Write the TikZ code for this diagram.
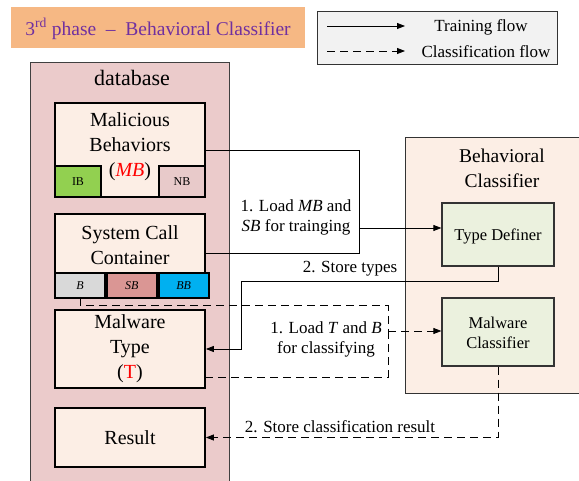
\documentclass[tikz,border=0pt]{standalone}
\usepackage{fontspec}
\setmainfont{Liberation Serif}
\usetikzlibrary{arrows.meta}
\definecolor{titlebg}{HTML}{F6B884}
\definecolor{titlefg}{HTML}{7030A0}
\definecolor{legbg}{HTML}{F2F2F2}
\definecolor{dbfill}{HTML}{EBCBCB}
\definecolor{inner}{HTML}{FCEEE5}
\definecolor{bcfill}{HTML}{FCEEE5}
\definecolor{greenbox}{HTML}{EBF1DE}
\definecolor{ibfill}{HTML}{92D050}
\definecolor{nbfill}{HTML}{E8CACA}
\definecolor{bfill}{HTML}{D9D9D9}
\definecolor{sbfill}{HTML}{DA9694}
\definecolor{bbfill}{HTML}{00B0F0}
\begin{document}
\begin{tikzpicture}[x=1pt,y=-1pt,
  box/.style={draw=black, line width=1.8pt, fill=inner, inner sep=0pt},
  cell/.style={draw=black, line width=1.8pt, inner sep=0pt, font=\fontsize{12}{14}\selectfont},
  gbox/.style={draw=black!80, line width=1.2pt, fill=greenbox, inner sep=0pt},
  big/.style={font=\fontsize{20}{25}\selectfont, align=center, inner sep=0pt},
  mid/.style={font=\fontsize{17}{20}\selectfont, align=center, inner sep=0pt},
  tip/.style={-{Triangle[length=8pt,width=6pt]}},
  solidflow/.style={draw=black, line width=0.8pt},
  dashflow/.style={draw=black, line width=0.8pt, dash pattern=on 8pt off 5pt}]
\useasboundingbox (0,0) rectangle (579,481);
% title
\node[fill=titlebg, minimum width=294pt, minimum height=41pt, anchor=north west, inner sep=0pt] (title) at (11,7) {};
\node[font=\fontsize{19.5}{22}\selectfont, text=titlefg, inner sep=0pt] (titletext) at (158,29) {3\textsuperscript{rd} phase \ – \ Behavioral Classifier};
% legend
\node[draw=black!80, line width=1pt, fill=legbg, minimum width=240pt, minimum height=53pt, anchor=north west, inner sep=0pt] (legend) at (317,11) {};
\coordinate (l1a) at (327,26); \coordinate (l1b) at (405,26);
\coordinate (l2a) at (327,51); \coordinate (l2b) at (405,51);
\draw[solidflow, tip] (l1a) -- (l1b);
\draw[dashflow, tip] (l2a) -- (l2b);
\node[mid] (ltrain) at (481,27) {Training flow};
\node[mid] (lclass) at (486,52) {Classification flow};
% database
\node[draw=black!75, line width=1pt, fill=dbfill, minimum width=199pt, minimum height=440pt, anchor=north west, inner sep=0pt] (db) at (30,62) {};
\node[font=\fontsize{22}{26}\selectfont, inner sep=0pt] (dbtext) at (132,78) {database};
% MB
\node[box, minimum width=150pt, minimum height=94pt] (mb) at (130,150) {};
\node[cell, fill=ibfill, minimum width=46pt, minimum height=31pt, anchor=south west] (ib) at (mb.south west) {IB};
\node[cell, fill=nbfill, minimum width=46pt, minimum height=31pt, anchor=south east] (nb) at (mb.south east) {NB};
\node[big] (mbtext) at (130,147) {Malicious\\Behaviors\\(\textcolor{red}{\textit{MB}})};
% SCC
\node[box, minimum width=150pt, minimum height=84pt] (scc) at (130,256) {};
\node[cell, fill=bfill, minimum width=50pt, minimum height=25pt, anchor=south west] (bcell) at (scc.south west) {\textit{B}};
\node[cell, fill=sbfill, minimum width=50pt, minimum height=25pt, anchor=south west] (sbcell) at (bcell.south east) {\textit{SB}};
\node[cell, fill=bbfill, minimum width=50pt, minimum height=25pt, anchor=south west] (bbcell) at (sbcell.south east) {\textit{BB}};
\node[big] (scctext) at (130,245) {System Call\\Container};
% Malware type
\node[box, minimum width=150pt, minimum height=78pt] (mtype) at (130,349) {};
\node[big] (mtypetext) at (130,349) {Malware\\Type\\(\textcolor{red}{T})};
% Result
\node[box, minimum width=150pt, minimum height=59pt] (result) at (130,437.5) {};
\node[big] (resulttext) at (130,438) {Result};
% Behavioral classifier
\node[draw=black!80, line width=1pt, fill=bcfill, minimum width=190pt, minimum height=256pt, anchor=north west, inner sep=0pt] (bc) at (405,137) {};
\node[font=\fontsize{19.5}{25}\selectfont, align=center, inner sep=0pt] (bctext) at (502,168) {Behavioral\\Classifier};
\node[gbox, minimum width=112pt, minimum height=63pt] (td) at (498,234.5) {};
\node[font=\fontsize{16.5}{20}\selectfont, inner sep=0pt] (tdtext) at (498,236) {Type Definer};
\node[gbox, minimum width=112pt, minimum height=68pt] (mc) at (498,332) {};
\node[font=\fontsize{16.5}{20}\selectfont, align=center, inner sep=0pt] (mctext) at (498,333) {Malware\\Classifier};
% training connectors
\coordinate (tj) at (359,228);
\coordinate (sccout) at (205,253);
\draw[solidflow] (mb.east) -| (tj);
\draw[solidflow] (sccout) -| (tj);
\draw[solidflow, tip] (tj) -- (td.west |- tj);
\node[mid] (loadmb) at (296,217) {1. Load \textit{MB} and\\\textit{SB} for trainging};
\coordinate (st) at (241,281);
\draw[solidflow, tip] (td.south) |- (st) |- (mtype.east);
\node[mid] (storetypes) at (350,269) {2. Store types};
% classification connectors
\coordinate (cj) at (388,331);
\coordinate (mtout) at (205,377);
\draw[dashflow] (bcell.south) -- ++(0,7) -| (cj);
\draw[dashflow] (mtout) -| (cj);
\draw[dashflow, tip] (cj) -- (mc.west |- cj);
\node[mid] (loadtb) at (326,339) {1. Load \textit{T} and \textit{B}\\for classifying};
\draw[dashflow, tip] (mc.south) |- (result.east);
\node[mid] (storeres) at (340,427) {2. Store classification result};
\end{tikzpicture}
\end{document}
